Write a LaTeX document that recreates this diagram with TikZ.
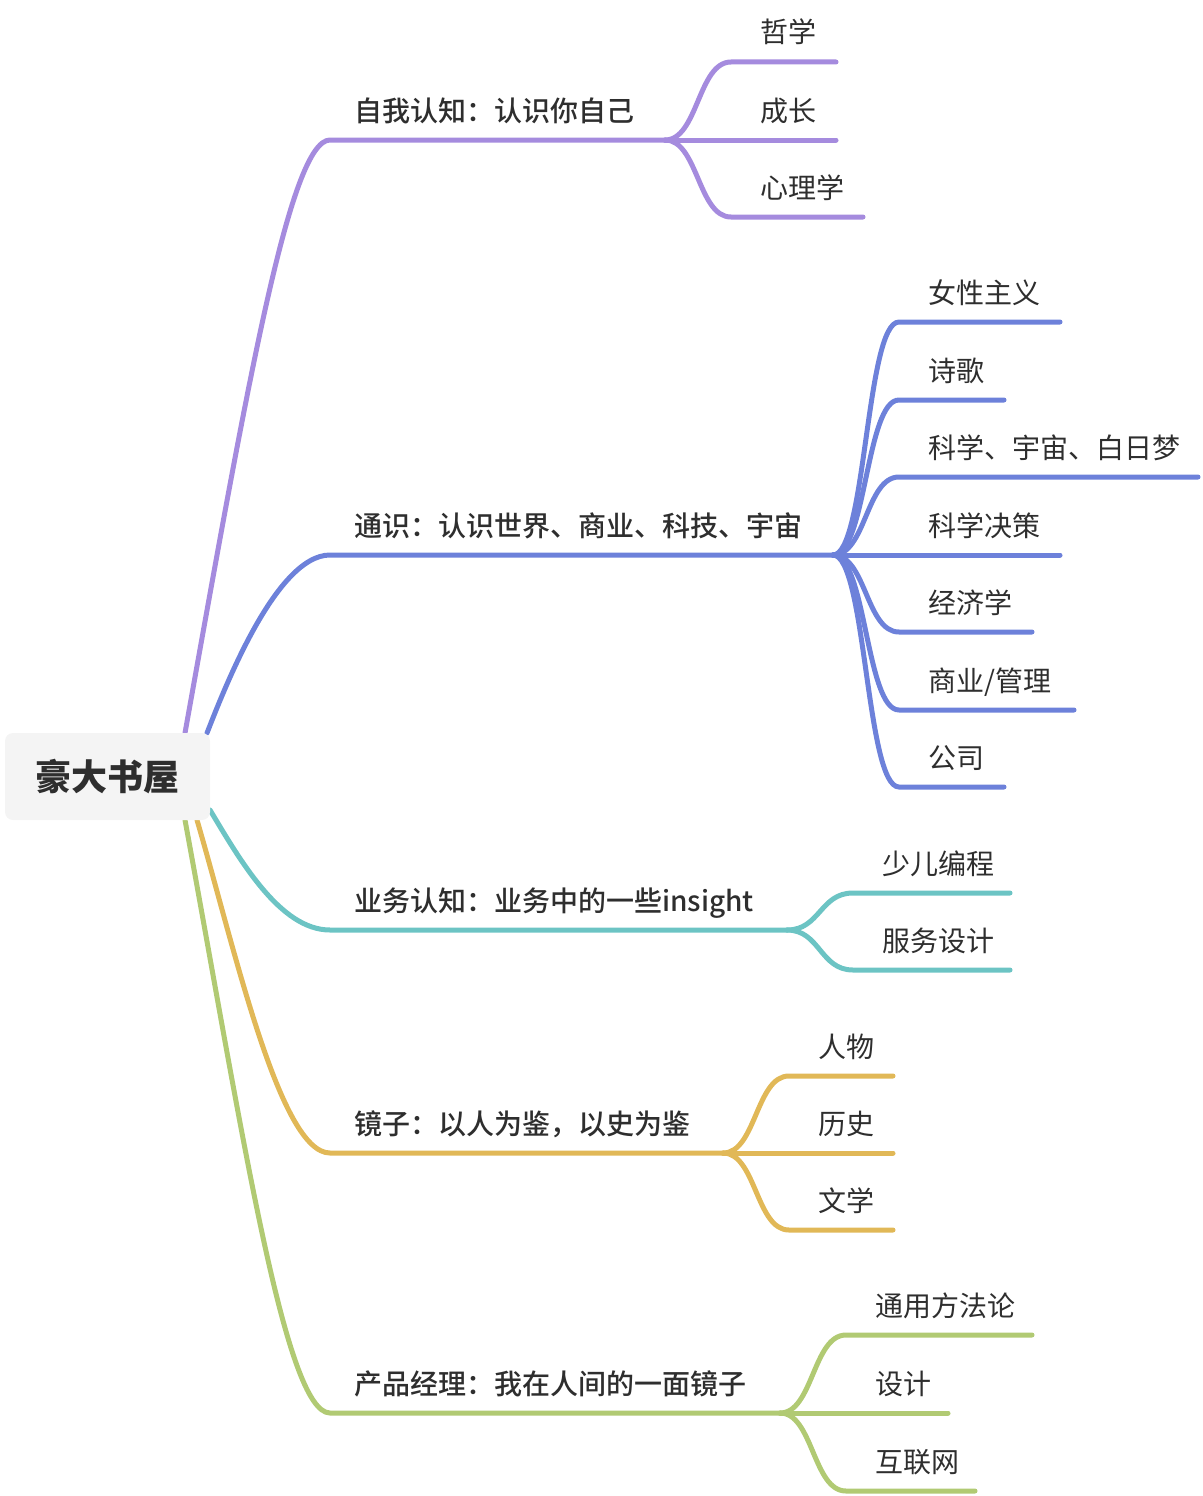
\documentclass[tikz,border=0pt]{standalone}
\usepackage{fontspec}
\setmainfont{Noto Sans CJK SC}
\newfontfamily\medfont{Noto Sans CJK SC Medium}
\definecolor{cP}{HTML}{A58BDE}
\definecolor{cB}{HTML}{6D81DA}
\definecolor{cT}{HTML}{6CC4C4}
\definecolor{cY}{HTML}{E1B857}
\definecolor{cG}{HTML}{B1CA73}
\definecolor{txt}{HTML}{2E2E2E}
\definecolor{rootbg}{HTML}{F4F4F4}
% #1 name, #2 colour, #3 fork name, #4 fork x, #5 y, #6 end x, #7 text
\newcommand\mmleaf[7]{%
  \coordinate (#1s) at (#4+66,#5);
  \coordinate (#1e) at (#6,#5);
  \node[leaf] (#1) at (#4+95,#5-19) {#7};
  \draw[edge,#2] (#3) .. controls +(33,0) and +(-33,0) .. (#1s) -- (#1e);
}
\begin{document}
\begin{tikzpicture}[x=1pt,y=-1pt,
  rootbox/.style={fill=rootbg, draw=none, rounded corners=8pt, minimum width=205pt,
    minimum height=87pt, inner sep=0pt, text=txt, font=\fontsize{36}{40}\selectfont\bfseries},
  branch/.style={anchor=base west, inner sep=0pt, text=txt, font=\fontsize{28}{32}\selectfont\medfont},
  leaf/.style={anchor=base west, inner sep=0pt, text=txt, font=\fontsize{28}{32}\selectfont},
  edge/.style={line width=5pt, line cap=round}]
\useasboundingbox (0,0) rectangle (1202,1496);

% main branches
\coordinate (oP) at (185,733); \coordinate (aP) at (330,140); \coordinate (fP) at (665,140);
\coordinate (oB) at (207,733); \coordinate (aB) at (330,555); \coordinate (fB) at (833,555);
\coordinate (oT) at (210,810); \coordinate (aT) at (330,930); \coordinate (fT) at (787,930);
\coordinate (oY) at (197,820); \coordinate (aY) at (330,1153); \coordinate (fY) at (723,1153);
\coordinate (oG) at (185,820); \coordinate (aG) at (330,1413); \coordinate (fG) at (780,1413);

\draw[edge,cP] (oP) .. controls (247,387) and (290,140) .. (aP) -- (fP);
\draw[edge,cB] (oB) .. controls (222,695) and (275,555) .. (aB) -- (fB);
\draw[edge,cT] (oT) .. controls (240,860) and (280,930) .. (aT) -- (fT);
\draw[edge,cY] (oY) .. controls (235,950) and (280,1153) .. (aY) -- (fY);
\draw[edge,cG] (oG) .. controls (242,1130) and (285,1413) .. (aG) -- (fG);

\node[rootbox] (root) at (107.5,776.5) {豪大书屋};

\node[branch] (bP) at (354,140-19) {自我认知：认识你自己};
\node[branch] (bB) at (354,555-19) {通识：认识世界、商业、科技、宇宙};
\node[branch] (bT) at (354,930-19) {业务认知：业务中的一些insight};
\node[branch] (bY) at (354,1153-19) {镜子：以人为鉴，以史为鉴};
\node[branch] (bG) at (354,1413-19) {产品经理：我在人间的一面镜子};

% leaves
\mmleaf{p1}{cP}{fP}{665}{62}{836}{哲学}
\mmleaf{p2}{cP}{fP}{665}{140}{836}{成长}
\mmleaf{p3}{cP}{fP}{665}{217}{863}{心理学}

\mmleaf{b1}{cB}{fB}{833}{322}{1060}{女性主义}
\mmleaf{b2}{cB}{fB}{833}{400}{1004}{诗歌}
\mmleaf{b3}{cB}{fB}{833}{477}{1198}{科学、宇宙、白日梦}
\mmleaf{b4}{cB}{fB}{833}{555}{1060}{科学决策}
\mmleaf{b5}{cB}{fB}{833}{632}{1032}{经济学}
\mmleaf{b6}{cB}{fB}{833}{710}{1074}{商业/管理}
\mmleaf{b7}{cB}{fB}{833}{787}{1004}{公司}

\mmleaf{t1}{cT}{fT}{787}{893}{1010}{少儿编程}
\mmleaf{t2}{cT}{fT}{787}{970}{1010}{服务设计}

\mmleaf{y1}{cY}{fY}{723}{1076}{893}{人物}
\mmleaf{y2}{cY}{fY}{723}{1153}{893}{历史}
\mmleaf{y3}{cY}{fY}{723}{1230}{893}{文学}

\mmleaf{g1}{cG}{fG}{780}{1335}{1032}{通用方法论}
\mmleaf{g2}{cG}{fG}{780}{1413}{948}{设计}
\mmleaf{g3}{cG}{fG}{780}{1491}{975}{互联网}
\end{tikzpicture}
\end{document}
